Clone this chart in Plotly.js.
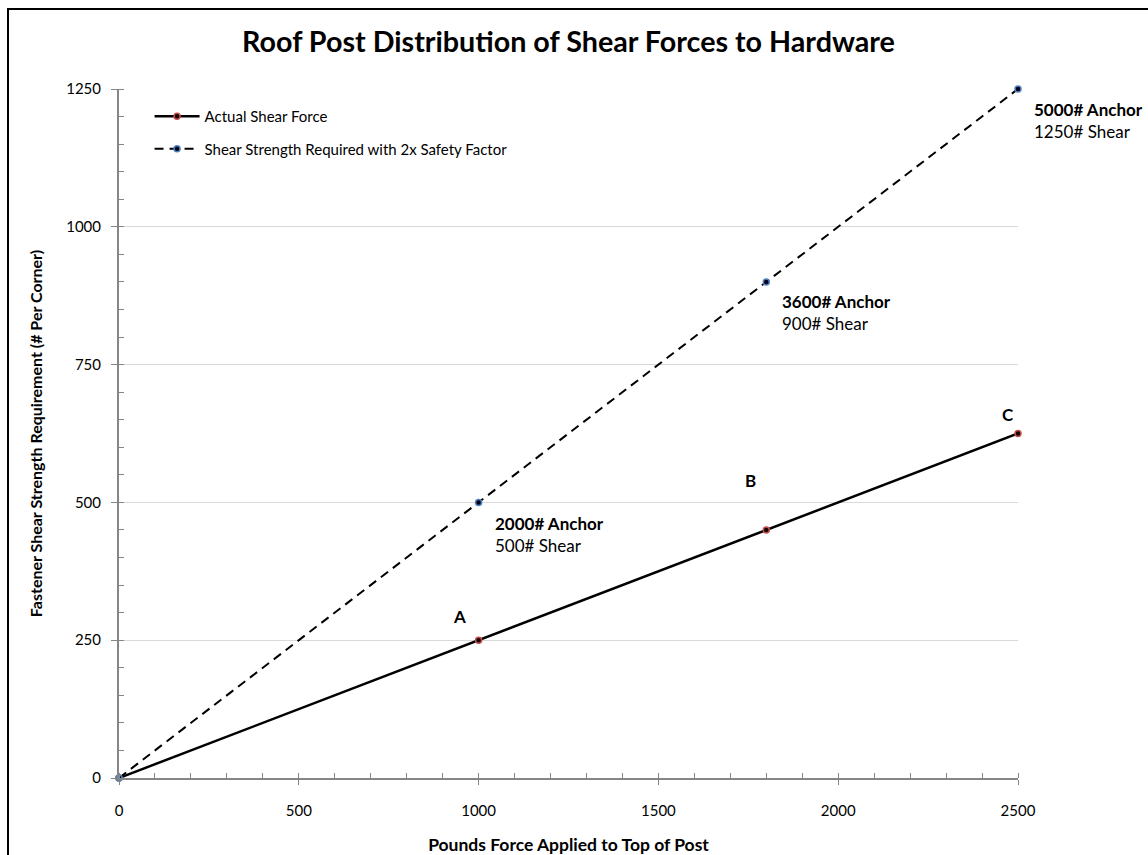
<!DOCTYPE html>
<html>
<head>
<meta charset="utf-8">
<script src="https://cdn.plot.ly/plotly-3.0.1.min.js"></script>
<style>
  html, body { margin: 0; padding: 0; background: #fff; }
  #chart { width: 1148px; height: 855px; }
  #frame { position: absolute; left: 7px; top: 8px; width: 1160px; height: 870px;
           border-left: 2px solid #000; border-top: 2px solid #000; pointer-events: none; }
</style>
</head>
<body>
<div id="chart"></div>
<div id="frame"></div>
<script>
const forceApplied = [0, 1000, 1800, 2500];
const actualShear = [0, 250, 450, 625];
const requiredShear = [0, 500, 900, 1250];
const seriesNames = ["Actual Shear Force", "Shear Strength Required with 2x Safety Factor"];
const pointLabels = ["A", "B", "C"];
const anchorLabels = ["2000# Anchor", "3600# Anchor", "5000# Anchor"];
const shearLabels = ["500# Shear", "900# Shear", "1250# Shear"];

const FONT = "Lato, 'Open Sans', sans-serif";

const traces = [
  {
    x: forceApplied, y: actualShear, name: seriesNames[0], mode: "lines+markers",
    legendgroup: "a",
    line: { color: "#000000", width: 2.5 },
    marker: { size: 6, color: "#1a0000", line: { color: "#c0504d", width: 1.5 } },
    cliponaxis: false
  },
  {
    x: forceApplied, y: requiredShear, name: seriesNames[1], mode: "lines+markers",
    legendgroup: "b",
    line: { color: "#000000", width: 2, dash: "9px,6px" },
    marker: { size: 6, color: "#00001a", line: { color: "#4f81bd", width: 1.5 } },
    cliponaxis: false
  }
];

const annotations = [];
// label positions in paper fractions (text placement, not data)
const anchorPos = [[0.416, 0.353], [0.735, 0.675], [1.0156, 0.9536]];
for (let i = 0; i < anchorLabels.length; i++) {
  annotations.push({
    x: anchorPos[i][0], y: anchorPos[i][1], xref: "paper", yref: "paper",
    text: "<b>" + anchorLabels[i] + "</b><br>" + shearLabels[i],
    showarrow: false, xanchor: "left", yanchor: "middle", align: "left",
    font: { family: FONT, size: 17, color: "#000" }
  });
}
const letterPos = [[0.3782, 0.2337], [0.7019, 0.4311], [0.9889, 0.5283]];
for (let i = 0; i < pointLabels.length; i++) {
  annotations.push({
    x: letterPos[i][0], y: letterPos[i][1], xref: "paper", yref: "paper",
    text: "<b>" + pointLabels[i] + "</b>",
    showarrow: false, xanchor: "center", yanchor: "middle",
    font: { family: FONT, size: 17, color: "#000" }
  });
}

const layout = {
  width: 1148, height: 855,
  margin: { l: 119, r: 130, t: 89, b: 77 },
  paper_bgcolor: "#ffffff", plot_bgcolor: "#ffffff",
  font: { family: FONT, color: "#000" },
  title: {
    text: "<b>Roof Post Distribution of Shear Forces to Hardware</b>",
    font: { family: FONT, size: 28.7, color: "#000" },
    x: 0.5, xref: "paper", y: 0.951, yanchor: "middle"
  },
  showlegend: true,
  legend: {
    x: 0.034, y: 0.984, xanchor: "left", yanchor: "top",
    bgcolor: "rgba(0,0,0,0)", font: { family: FONT, size: 15, color: "#000" },
    traceorder: "grouped", tracegroupgap: 10, itemwidth: 45
  },
  xaxis: {
    range: [0, 2500], tickvals: [0, 500, 1000, 1500, 2000, 2500],
    showgrid: false, zeroline: false,
    showline: true, linecolor: "#868686", linewidth: 2,
    ticks: "outside", ticklen: 5, tickcolor: "#868686", tickwidth: 1,
    ticklabelstandoff: 13,
    tickfont: { family: FONT, size: 15, color: "#000" },
    minor: { dtick: 100, ticks: "inside", ticklen: 5, tickcolor: "#868686", showgrid: false },
    title: { text: "<b>Pounds Force Applied to Top of Post</b>", font: { family: FONT, size: 17.5, color: "#000" }, standoff: 22 },
    automargin: false
  },
  yaxis: {
    range: [0, 1250], tickvals: [0, 250, 500, 750, 1000, 1250],
    showgrid: true, gridcolor: "#d9d9d9", gridwidth: 1, zeroline: false,
    showline: true, linecolor: "#868686", linewidth: 2,
    ticks: "outside", ticklen: 6, tickcolor: "#868686", tickwidth: 1,
    ticklabelstandoff: 7,
    tickfont: { family: FONT, size: 15, color: "#000" },
    minor: { dtick: 50, ticks: "inside", ticklen: 5, tickcolor: "#868686", showgrid: false },
    title: { text: "<b>Fastener Shear Strength Requirement (# Per Corner)</b>", font: { family: FONT, size: 16, color: "#000" }, standoff: 20 },
    automargin: false
  },
  annotations: annotations
};

Plotly.newPlot("chart", traces, layout, { displayModeBar: false, staticPlot: true });
</script>
</body>
</html>
